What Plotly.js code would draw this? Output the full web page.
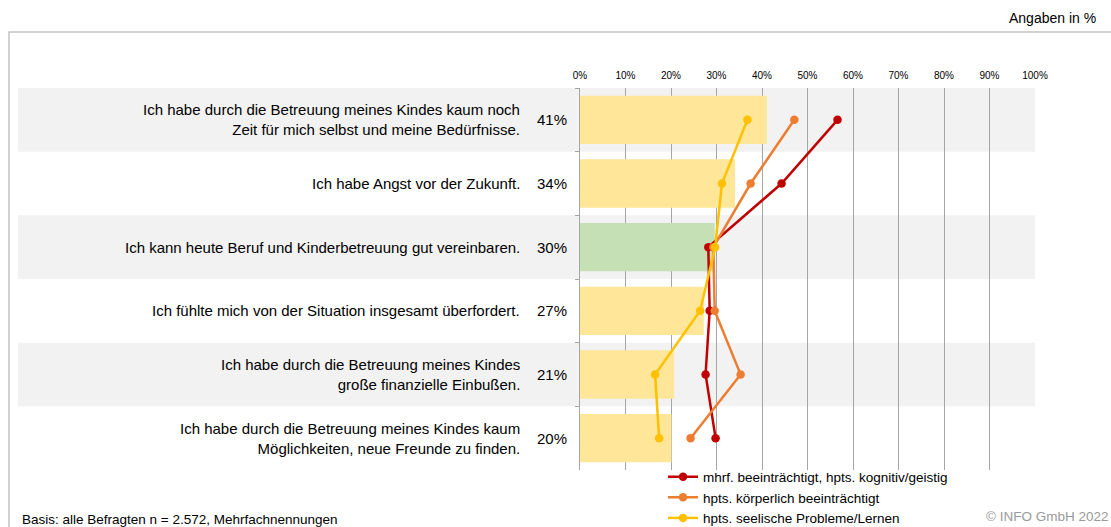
<!DOCTYPE html>
<html>
<head>
<meta charset="utf-8">
<script src="https://cdn.plot.ly/plotly-3.0.1.min.js"></script>
<style>
html, body { margin: 0; padding: 0; background: #ffffff; }
#chart { width: 1111px; height: 527px; }
</style>
</head>
<body>
<div id="chart"></div>
<script>
// ---- data ----
const statements = [
  "Ich habe durch die Betreuung meines Kindes kaum noch<br>Zeit für mich selbst und meine Bedürfnisse.",
  "Ich habe Angst vor der Zukunft.",
  "Ich kann heute Beruf und Kinderbetreuung gut vereinbaren.",
  "Ich fühlte mich von der Situation insgesamt überfordert.",
  "Ich habe durch die Betreuung meines Kindes<br>große finanzielle Einbußen.",
  "Ich habe durch die Betreuung meines Kindes kaum<br>Möglichkeiten, neue Freunde zu finden."
];
const totalValues = [41.1, 34.1, 29.6, 27.2, 20.7, 20.1];
const totalLabels = ["41%", "34%", "30%", "27%", "21%", "20%"];
const seriesNames = [
  "mhrf. beeinträchtigt, hpts. kognitiv/geistig",
  "hpts. körperlich beeinträchtigt",
  "hpts. seelische Probleme/Lernen"
];
const kognitiv = [56.6, 44.3, 28.2, 28.5, 27.6, 29.8];
const koerperlich = [47.1, 37.5, 29.3, 29.6, 35.3, 24.3];
const seelisch = [36.8, 31.2, 29.7, 26.4, 16.5, 17.4];
const tickValues = [0, 10, 20, 30, 40, 50, 60, 70, 80, 90, 100];
const tickLabels = ["0%", "10%", "20%", "30%", "40%", "50%", "60%", "70%", "80%", "90%", "100%"];
const highlightIndex = 2;

// ---- layout helpers (pixel -> paper) ----
const W = 1111, H = 527;
const M = { l: 580, r: 76, t: 88, b: 57, autoexpand: false };
const PW = W - M.l - M.r, PH = H - M.t - M.b;
const px2x = p => (p - M.l) / PW;
const px2y = p => (H - M.b - p) / PH;
const FONT = "Arial, 'Liberation Sans', sans-serif";
const nRows = statements.length;

const barColors = statements.map((_, i) => i === highlightIndex ? "#C5E0B4" : "#FFE699");
const lineColors = ["#C00000", "#ED7D31", "#FFC000"];
const seriesValues = [kognitiv, koerperlich, seelisch];

const traces = [{
  type: "bar",
  orientation: "h",
  x: totalValues,
  y: statements,
  width: 0.76,
  marker: { color: barColors },
  showlegend: false,
  hoverinfo: "skip"
}];
seriesValues.forEach((vals, k) => {
  traces.push({
    type: "scatter",
    mode: "lines+markers",
    name: seriesNames[k],
    x: vals,
    y: statements,
    line: { color: lineColors[k], width: 2.5 },
    marker: { color: lineColors[k], size: 8.5 },
    cliponaxis: false
  });
});

const shapes = [];
// frame
shapes.push({
  type: "rect", xref: "paper", yref: "paper", layer: "below",
  x0: px2x(9), x1: px2x(1130), y0: px2y(32), y1: px2y(560),
  line: { color: "#c4c4c4", width: 1.5 }, fillcolor: "rgba(0,0,0,0)"
});
// alternating bands
for (let i = 0; i < nRows; i += 2) {
  shapes.push({
    type: "rect", xref: "paper", yref: "paper", layer: "below",
    x0: px2x(18), x1: 1, y0: 1 - (i + 1) / nRows, y1: 1 - i / nRows,
    line: { width: 0 }, fillcolor: "#f2f2f2"
  });
}

const annotations = [];
statements.forEach((s, i) => {
  annotations.push({
    xref: "paper", yref: "y", x: px2x(522), y: s, xanchor: "right", yanchor: "middle",
    text: s, align: "right", showarrow: false,
    font: { family: FONT, size: 15, color: "#000000" }
  });
  annotations.push({
    xref: "paper", yref: "y", x: px2x(569), y: s, xanchor: "right", yanchor: "middle",
    text: totalLabels[i], showarrow: false,
    font: { family: FONT, size: 15, color: "#000000" }
  });
});
annotations.push({
  xref: "paper", yref: "paper", x: px2x(1098), y: px2y(18), xanchor: "right", yanchor: "middle",
  text: "Angaben in %", showarrow: false, font: { family: FONT, size: 14, color: "#000000" }
});
annotations.push({
  xref: "paper", yref: "paper", x: px2x(20), y: px2y(519), xanchor: "left", yanchor: "middle",
  text: "Basis: alle Befragten n = 2.572, Mehrfachnennungen", showarrow: false,
  font: { family: FONT, size: 13.5, color: "#000000" }
});
annotations.push({
  xref: "paper", yref: "paper", x: px2x(1110), y: px2y(516), xanchor: "right", yanchor: "middle",
  text: "© INFO GmbH 2022", showarrow: false,
  font: { family: FONT, size: 13.5, color: "#9a9a9a" }
});

const layout = {
  width: W, height: H,
  margin: M,
  paper_bgcolor: "#ffffff",
  plot_bgcolor: "rgba(0,0,0,0)",
  font: { family: FONT, color: "#000000" },
  showlegend: true,
  legend: {
    x: px2x(663), xanchor: "left", y: px2y(461.5), yanchor: "top",
    bgcolor: "rgba(0,0,0,0)", borderwidth: 0,
    font: { family: FONT, size: 13.5, color: "#000000" },
    tracegroupgap: 0
  },
  xaxis: {
    range: [0, 100], side: "top", fixedrange: true,
    tickvals: tickValues, ticktext: tickLabels,
    ticks: "", ticklabelstandoff: 6, tickfont: { family: FONT, size: 10, color: "#000000" },
    showgrid: true, gridcolor: "#a6a6a6", gridwidth: 1,
    zeroline: false, showline: false
  },
  yaxis: {
    type: "category", range: [nRows - 0.5, -0.5], fixedrange: true,
    showticklabels: false, showgrid: false, zeroline: false,
    showline: true, linecolor: "#a6a6a6", linewidth: 1,
    ticks: "outside", tickson: "boundaries", ticklen: 4, tickcolor: "#a6a6a6"
  },
  bargap: 0.24,
  shapes: shapes,
  annotations: annotations
};

Plotly.newPlot("chart", traces, layout, { staticPlot: true, displayModeBar: false });
</script>
</body>
</html>
